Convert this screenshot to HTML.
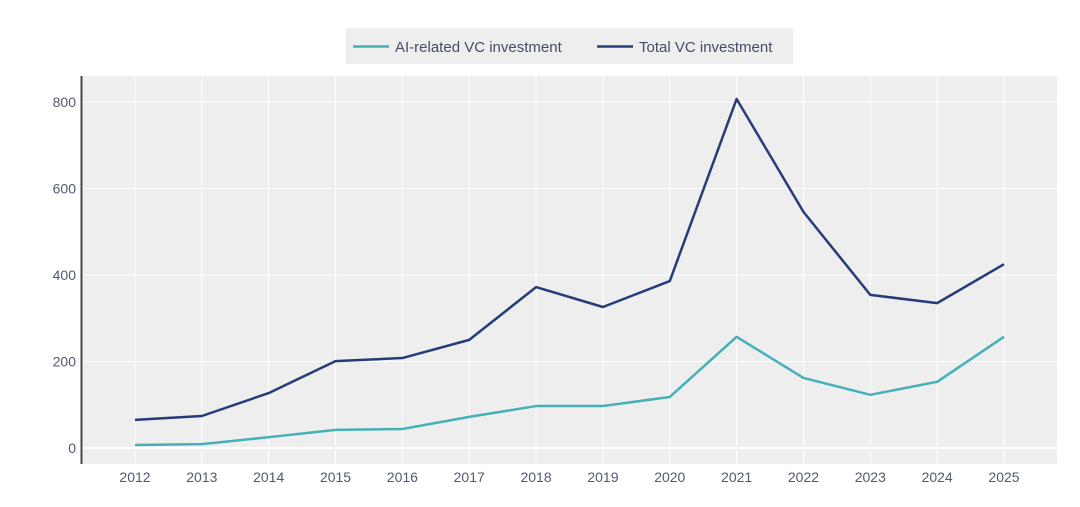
<!DOCTYPE html>
<html><head><meta charset="utf-8"><style>
body{margin:0;background:#fff;}
svg{display:block;font-family:"Liberation Sans",sans-serif;}
</style></head><body>
<svg id="chart" width="1080" height="507">
<g>
<rect x="346" y="28" width="447" height="36" fill="#eeeeee"/>
<g>
<line x1="353" y1="46.5" x2="389" y2="46.5" stroke="#45b0b8" stroke-width="2.5"/>
<text x="395" y="52" font-size="15" fill="#444d66">AI-related VC investment</text>
</g>
<g>
<line x1="597" y1="46.5" x2="633" y2="46.5" stroke="#263c7a" stroke-width="2.5"/>
<text x="639" y="52" font-size="15" fill="#444d66">Total VC investment</text>
</g>
</g>
<rect x="82" y="76" width="975" height="388" fill="#eeeeee"/>
<g id="grid"></g>
<g id="marks"></g>
<line x1="81.5" y1="76" x2="81.5" y2="464" stroke="#444" stroke-width="2"/>
<g id="labels"></g>
</svg>
<script>
const years=[2012,2013,2014,2015,2016,2017,2018,2019,2020,2021,2022,2023,2024,2025];
const totalVC=[65,74,127,201,208,250,372,326,386,807,546,354,335,425];
const aiVC=[7,9,25,42,44,72,97,97,118,257,162,123,153,257];
const yTicks=[0,200,400,600,800];
const NS="http://www.w3.org/2000/svg";
function xs(i){return 135+i*(1004-135)/13;}
function ys(v){return 448-v*(448-102)/800;}
function mk(tag,attrs,parent){const e=document.createElementNS(NS,tag);for(const k in attrs)e.setAttribute(k,attrs[k]);document.getElementById(parent).appendChild(e);return e;}
years.forEach((y,i)=>{
 const g=mk('line',{x1:xs(i),x2:xs(i),y1:76,y2:464,stroke:'#fff','stroke-width':1},'grid');
 
 
 const t=mk('text',{x:xs(i),y:482,'text-anchor':'middle','font-size':14,fill:'#505a70'},'labels');
 t.textContent=y;
 
 
});
yTicks.forEach(v=>{
 const g=mk('line',{x1:82,x2:1057,y1:ys(v),y2:ys(v),stroke:'#fff','stroke-width':v===0?2:1},'grid');
 
 
 const t=mk('text',{x:76,y:ys(v)+5,'text-anchor':'end','font-size':14,fill:'#505a70'},'labels');
 t.textContent=v;
 
 
});
function line(data,color,name){
 const p=mk('polyline',{points:data.map((v,i)=>xs(i)+','+ys(v)).join(' '),fill:'none',stroke:color,'stroke-width':2.5,'stroke-linejoin':'round'},'marks');
 
 
}
line(aiVC,'#45b0b8','ai-vc-line');
line(totalVC,'#263c7a','total-vc-line');
</script>
</body></html>
